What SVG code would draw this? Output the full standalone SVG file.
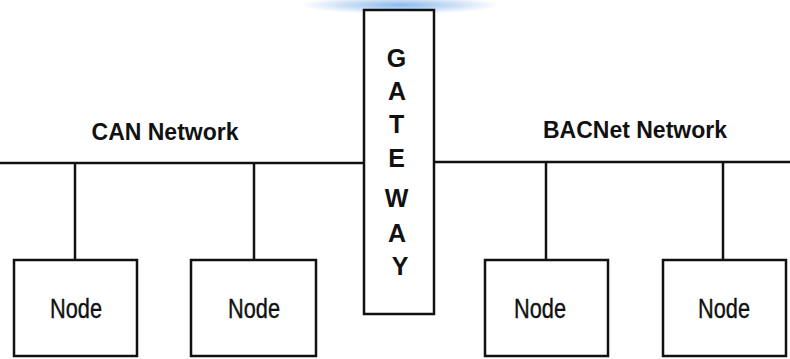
<svg xmlns="http://www.w3.org/2000/svg" width="790" height="359" viewBox="0 0 790 359">
<style>
.box{fill:#ffffff;stroke:#111111;stroke-width:2.5}
.wire{stroke:#111111;stroke-width:2.5;fill:none}
.lbl{font-family:"Liberation Sans",Arial,sans-serif;fill:#111111}
.net{font-size:23px;font-weight:bold}
.node{font-size:28px;stroke:#111111;stroke-width:0.4}
.gw{font-size:25px;font-weight:bold}
</style>
<defs>
<radialGradient id="glow" cx="0.5" cy="0.5" r="0.5">
<stop offset="0" stop-color="#6fa8e8" stop-opacity="0.8"/>
<stop offset="1" stop-color="#6fa8e8" stop-opacity="0"/>
</radialGradient>
</defs>
<rect width="790" height="359" fill="#ffffff"/>
<ellipse cx="400" cy="5" rx="100" ry="9" fill="url(#glow)"/>
<g id="connectors">
<line class="wire" x1="0" y1="163" x2="364" y2="163"/>
<line class="wire" x1="434" y1="162" x2="790" y2="162"/>
<line class="wire" x1="75" y1="163" x2="75" y2="260"/>
<line class="wire" x1="254" y1="163" x2="254" y2="260"/>
<line class="wire" x1="546" y1="162" x2="546" y2="260"/>
<line class="wire" x1="723" y1="162" x2="723" y2="260"/>
</g>
<g id="can-label"><text class="lbl net" x="165" y="140" text-anchor="middle">CAN Network</text></g>
<g id="bacnet-label"><text class="lbl net" x="635" y="138" text-anchor="middle">BACNet Network</text></g>
<g id="gateway">
<rect class="box" x="364" y="10" width="70" height="304"/>
<text class="lbl gw" text-anchor="middle">
<tspan x="400" y="67">G</tspan>
<tspan x="400" y="100">A</tspan>
<tspan x="400" y="133">T</tspan>
<tspan x="400" y="167">E</tspan>
<tspan x="400" y="207">W</tspan>
<tspan x="400" y="242">A</tspan>
<tspan x="400" y="275">Y</tspan>
</text>
</g>
<g id="node1">
<rect class="box" x="14" y="260" width="123" height="96"/>
<text class="lbl node" x="76" y="318" text-anchor="middle" textLength="52" lengthAdjust="spacingAndGlyphs">Node</text>
</g>
<g id="node2">
<rect class="box" x="191" y="260" width="125" height="96"/>
<text class="lbl node" x="254" y="318" text-anchor="middle" textLength="52" lengthAdjust="spacingAndGlyphs">Node</text>
</g>
<g id="node3">
<rect class="box" x="485" y="260" width="123" height="96"/>
<text class="lbl node" x="540" y="318" text-anchor="middle" textLength="52" lengthAdjust="spacingAndGlyphs">Node</text>
</g>
<g id="node4">
<rect class="box" x="663" y="260" width="123" height="96"/>
<text class="lbl node" x="724" y="318" text-anchor="middle" textLength="52" lengthAdjust="spacingAndGlyphs">Node</text>
</g>
</svg>
